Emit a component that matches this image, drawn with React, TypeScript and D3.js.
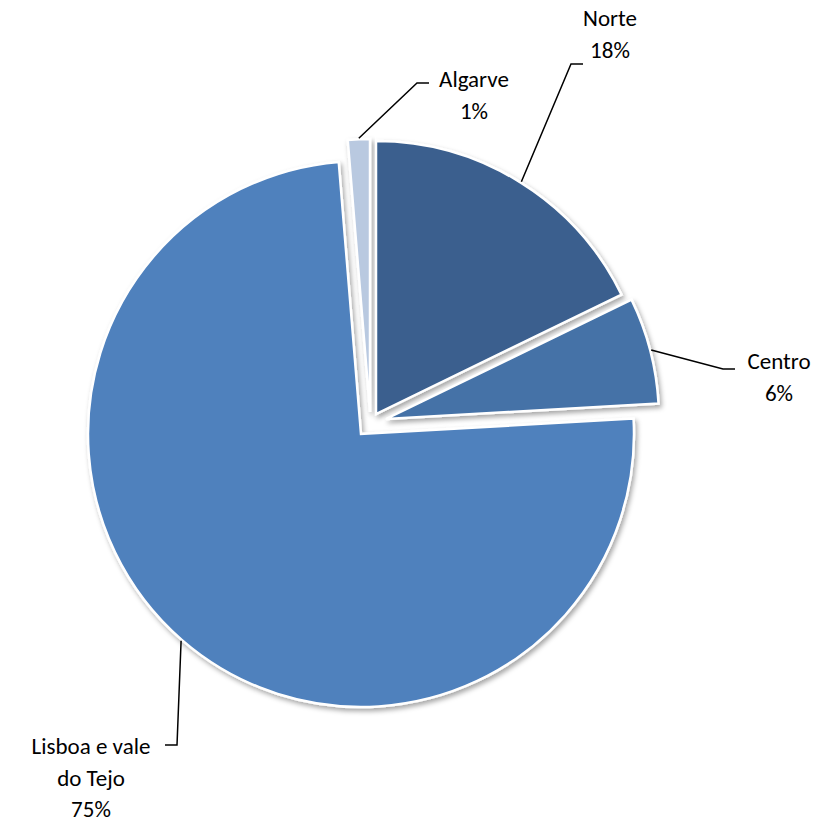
import React from "react";
import * as d3 from "d3";

const regions = ["Norte", "Centro", "Lisboa e vale do Tejo", "Algarve"];
const shares = [17.8, 6.3, 74.6, 1.3];
const percentLabels = ["18%", "6%", "75%", "1%"];
const sliceColors = ["#3A5F8E", "#4572A7", "#4F81BD", "#B9C9E0"];

// per-slice explosion offset (layout)
const explodeOffsets = [
  [15, -20],
  [25, -15],
  [0, 0],
  [9, -22],
];

// label layout: elbow point of the leader, side of the tail, text position
const labelLayout = [
  { elbow: [571, 64], side: 1, lines: [regions[0], percentLabels[0]], tx: 610, ty: 18 },
  { elbow: [723, 369], side: 1, lines: [regions[1], percentLabels[1]], tx: 779, ty: 361 },
  { elbow: [177, 745], side: -1, lines: ["Lisboa e vale", "do Tejo", percentLabels[2]], tx: 91, ty: 746 },
  { elbow: [417, 83], side: 1, lines: [regions[3], percentLabels[3]], tx: 474, ty: 79 },
];

const W = 838;
const H = 822;
const CX = 361;
const CY = 434;
const R = 273;

export default function App() {
  const pie = d3.pie<number>().sort(null).value((d) => d);
  const arcs = pie(shares);
  const arcGen = d3.arc<d3.PieArcDatum<number>>().innerRadius(0).outerRadius(R);

  return (
    <svg
      width={W}
      height={H}
      style={{ position: "absolute", left: 0, top: 0, background: "#fff" }}
      fontFamily="Carlito, Lato, 'Open Sans', sans-serif"
    >
      <defs>
        <filter id="sh" x="-20%" y="-20%" width="140%" height="140%">
          <feDropShadow dx="2" dy="3" stdDeviation="2.5" floodColor="#000" floodOpacity="0.35" />
        </filter>
      </defs>
      {arcs.map((a, i) => {
        const ox = CX + explodeOffsets[i][0];
        const oy = CY + explodeOffsets[i][1];
        return (
          <g key={regions[i]} transform={`translate(${ox},${oy})`}>
            <path
              d={arcGen(a) || ""}
              fill={sliceColors[i]}
              stroke="#fff"
              strokeWidth={2.5}
              strokeLinejoin="miter"
              filter="url(#sh)"
            />
          </g>
        );
      })}
      {arcs.map((a, i) => {
        const mid = (a.startAngle + a.endAngle) / 2;
        const ox = CX + explodeOffsets[i][0];
        const oy = CY + explodeOffsets[i][1];
        const sx = ox + (R + 1) * Math.sin(mid);
        const sy = oy - (R + 1) * Math.cos(mid);
        const L = labelLayout[i];
        const ex = L.elbow[0];
        const ey = L.elbow[1];
        const tailX = ex + L.side * 12;
        return (
          <g key={"lbl" + i}>
            <polyline
              points={`${sx},${sy} ${ex},${ey} ${tailX},${ey}`}
              fill="none"
              stroke="#000"
              strokeWidth={1.5}
            />
            {L.lines.map((t, k) => (
              <text
                key={k}
                x={L.tx}
                y={L.ty + k * 31.5}
                textAnchor="middle"
                dominantBaseline="central"
                fontSize={23}
                fill="#000"
              >
                {t}
              </text>
            ))}
          </g>
        );
      })}
    </svg>
  );
}
